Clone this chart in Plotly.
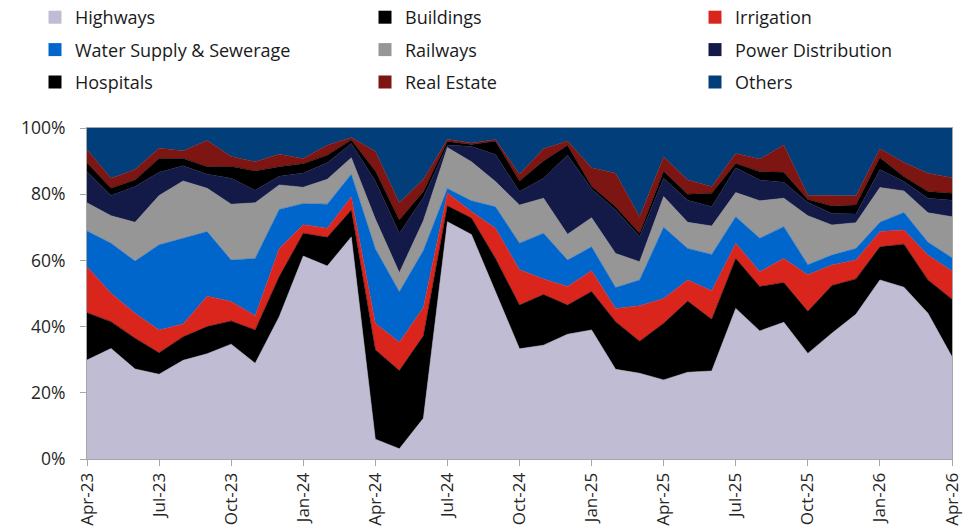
import plotly.graph_objects as go

months = ["Apr-23", "May-23", "Jun-23", "Jul-23", "Aug-23", "Sep-23", "Oct-23", "Nov-23", "Dec-23",
          "Jan-24", "Feb-24", "Mar-24", "Apr-24", "May-24", "Jun-24", "Jul-24", "Aug-24", "Sep-24",
          "Oct-24", "Nov-24", "Dec-24", "Jan-25", "Feb-25", "Mar-25", "Apr-25", "May-25", "Jun-25",
          "Jul-25", "Aug-25", "Sep-25", "Oct-25", "Nov-25", "Dec-25", "Jan-26", "Feb-26", "Mar-26", "Apr-26"]
tick_labels = months[::3]
y_ticks = [0, 20, 40, 60, 80, 100]
y_tick_labels = ["0%", "20%", "40%", "60%", "80%", "100%"]

highways = [29.9, 33.4, 27.2, 25.6, 29.8, 31.8, 34.7, 28.9, 43.0, 61.3, 58.3, 67.1, 6.0, 3.1, 12.3, 71.7, 67.8, 50.6, 33.3,
            34.4, 37.7, 39.0, 27.1, 25.9, 23.9, 26.2, 26.6, 45.5, 38.7, 41.3, 31.9, 38.0, 43.7, 54.1, 51.9, 44.0, 30.9]
buildings = [14.3, 8.1, 9.3, 6.5, 7.1, 8.2, 7.0, 10.1, 12.1, 6.9, 8.7, 8.1, 27.0, 23.6, 24.9, 4.8, 5.0, 10.0, 13.2,
             15.3, 8.8, 11.6, 14.4, 9.7, 17.1, 21.5, 15.6, 15.1, 13.4, 12.0, 12.7, 14.4, 10.7, 10.0, 13.0, 10.1, 17.4]
irrigation = [13.9, 8.6, 7.5, 6.9, 3.9, 9.2, 5.9, 4.3, 8.5, 2.6, 2.7, 4.0, 8.0, 8.6, 8.6, 3.9, 2.0, 9.1, 10.7,
              4.7, 5.6, 6.3, 4.0, 10.7, 7.5, 6.4, 8.6, 4.6, 4.5, 7.3, 11.1, 6.2, 5.7, 4.6, 4.3, 7.5, 8.5]
water_supply = [10.8, 15.1, 15.8, 25.7, 25.9, 19.5, 12.5, 17.3, 11.8, 6.4, 7.3, 6.8, 22.5, 15.2, 17.2, 1.3, 3.2, 6.5, 8.0,
                13.8, 8.0, 7.2, 6.3, 7.8, 21.5, 9.5, 11.0, 8.0, 10.1, 9.6, 3.0, 3.0, 3.5, 2.8, 5.3, 3.9, 4.0]
railways = [8.5, 8.3, 11.7, 14.9, 17.3, 13.1, 16.9, 16.8, 7.4, 4.9, 7.5, 5.0, 9.0, 5.8, 9.0, 12.4, 11.8, 7.6, 11.5,
            10.6, 7.8, 8.8, 10.3, 5.5, 9.3, 7.9, 8.6, 7.3, 11.3, 8.6, 14.8, 9.1, 7.8, 10.5, 6.5, 8.9, 12.4]
power = [9.4, 6.1, 10.8, 7.0, 4.6, 4.2, 7.8, 3.8, 2.6, 4.3, 5.0, 4.3, 11.5, 11.9, 7.0, 0.8, 4.6, 8.2, 4.1,
         6.0, 23.9, 8.7, 13.1, 7.6, 5.5, 6.7, 5.8, 7.5, 6.3, 4.8, 4.0, 3.5, 2.6, 5.5, 2.8, 4.4, 5.0]
hospitals = [2.7, 2.2, 2.0, 4.2, 2.2, 2.3, 3.6, 5.8, 2.9, 2.8, 2.3, 1.1, 3.0, 4.0, 1.8, 1.0, 0.6, 4.0, 3.2,
             5.2, 2.9, 0.8, 1.0, 1.0, 2.1, 1.8, 4.1, 1.3, 2.5, 3.0, 0.9, 2.2, 2.7, 3.5, 1.5, 2.0, 2.1]
real_estate = [3.9, 3.0, 3.2, 3.1, 2.3, 7.9, 3.0, 2.8, 3.8, 1.6, 3.0, 0.7, 6.0, 5.2, 3.7, 0.7, 0.5, 0.5, 2.0,
               3.7, 1.4, 5.6, 10.1, 5.0, 4.4, 4.3, 2.0, 3.0, 3.8, 8.3, 1.3, 3.1, 2.8, 2.7, 4.3, 5.5, 4.7]
others = [6.6, 15.2, 12.5, 6.1, 6.9, 3.8, 8.6, 10.2, 7.9, 9.2, 5.2, 2.9, 7.0, 22.6, 15.5, 3.4, 4.5, 3.5, 14.0,
          6.3, 3.9, 12.0, 13.7, 26.8, 8.7, 15.7, 17.7, 7.7, 9.4, 5.1, 20.3, 20.5, 20.5, 6.3, 10.4, 13.7, 15.0]

# (name, values, colour, legend column)
series = [
    ("Highways", highways, "#BFBCD3", "legend"),
    ("Buildings", buildings, "#000000", "legend2"),
    ("Irrigation", irrigation, "#DA251D", "legend3"),
    ("Water Supply & Sewerage", water_supply, "#0066CC", "legend"),
    ("Railways", railways, "#969696", "legend2"),
    ("Power Distribution", power, "#131A47", "legend3"),
    ("Hospitals", hospitals, "#000000", "legend"),
    ("Real Estate", real_estate, "#7D1512", "legend2"),
    ("Others", others, "#023E7A", "legend3"),
]

FONT = "Open Sans"
fig = go.Figure()
for name, vals, color, lg in series:
    fig.add_trace(go.Scatter(
        x=months, y=vals, name=name, mode="lines", stackgroup="one", groupnorm="percent",
        line=dict(width=0.5, color=color), fillcolor=color, showlegend=False,
        hovertemplate="%{x}: %{y:.1f}%<extra>" + name + "</extra>",
    ))
# legend entries (square swatches), one legend per column
for name, vals, color, lg in series:
    fig.add_trace(go.Scatter(
        x=[None], y=[None], mode="markers", name=name, legend=lg, legendgroup=name,
        marker=dict(symbol="square", size=13, color=color), showlegend=True,
    ))

leg_common = dict(orientation="v", xanchor="left", yanchor="middle", tracegroupgap=6,
                  font=dict(family=FONT, size=18, color="#1a1a1a"), traceorder="grouped",
                  bgcolor="rgba(0,0,0,0)", itemclick=False, itemdoubleclick=False)

W, H = 976, 532
PL, PW, PT, PH = 87, 865, 128, 331


def lx(text_px):
    return (text_px - 41 - PL) / PW


y_leg = (PT + PH - 50) / PH

fig.update_layout(
    width=W, height=H,
    margin=dict(l=PL, r=W - PL - PW, t=PT, b=H - PT - PH, autoexpand=False),
    paper_bgcolor="white", plot_bgcolor="white",
    font=dict(family=FONT, size=16, color="#262626"),
    legend=dict(x=lx(76), y=y_leg, **leg_common),
    legend2=dict(x=lx(406), y=y_leg, **leg_common),
    legend3=dict(x=lx(736), y=y_leg, **leg_common),
    xaxis=dict(
        type="category", range=[0, len(months) - 1], tickmode="array", tickvals=tick_labels, ticktext=tick_labels,
        tickangle=-90, ticks="outside", ticklen=6, tickcolor="#A6A6A6", showline=True, linecolor="#A6A6A6",
        linewidth=1, mirror=True, showgrid=False, zeroline=False,
        tickfont=dict(family=FONT, size=17, color="#262626"),
    ),
    yaxis=dict(
        range=[0, 100], tickmode="array", tickvals=y_ticks, ticktext=y_tick_labels,
        ticks="outside", ticklen=6, tickcolor="#A6A6A6", showline=True, linecolor="#A6A6A6", linewidth=1,
        mirror=True, showgrid=False, zeroline=False, ticklabelstandoff=11,
        tickfont=dict(family=FONT, size=17.5, color="#262626"),
    ),
    hovermode="x unified",
)

fig.write_html("out.html", config={"displayModeBar": False},
               post_script="document.body.style.margin='0';")
